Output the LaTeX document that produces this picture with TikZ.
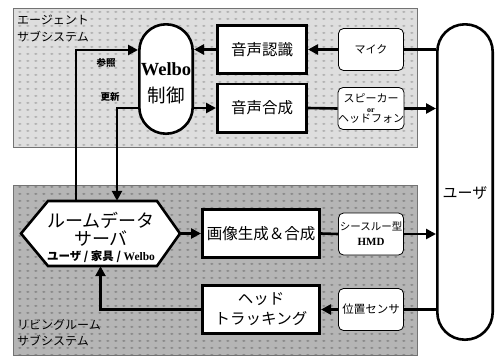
\documentclass[tikz,border=0pt]{standalone}
\usepackage{fontspec}
\setmainfont{Liberation Serif}
\newfontfamily\jp{Noto Sans CJK JP}
\usetikzlibrary{arrows.meta,patterns.meta}
\newcommand\tightls{\lineskiplimit=-20pt\relax}
\tikzdeclarepattern{
  name=paneldots, type=uncolored,
  bounding box={(0pt,0pt) and (8.3pt,7pt)},
  tile size={(8.3pt,7pt)},
  code={\fill (4.15pt,3.5pt) ellipse [x radius=2pt, y radius=1.2pt];}
}
\begin{document}
\begin{tikzpicture}[x=1pt,y=-1pt,
  panel/.style={draw=black!55, line width=0.8pt},
  bigbox/.style={draw, line width=2.6pt, fill=white, minimum width=89.4pt, minimum height=48.4pt, inner sep=0pt, align=center, font=\jp\fontsize{15.5}{20}\selectfont},
  dev/.style={draw, line width=0.8pt, fill=white, rounded corners=5pt, minimum width=65pt, minimum height=42pt, inner sep=0pt, align=center},
  conn/.style={line width=2.6pt},
  arr/.style={conn, -{Triangle[length=10pt,width=10pt]}},
  panellabel/.style={anchor=north west, align=left, inner sep=0pt, font=\jp\fontsize{12}{16.5}\selectfont},
]
\useasboundingbox (0,0) rectangle (497,357);
\fill[white] (0,0) rectangle (497,357);
% panels
\fill[black!13] (13,8) rectangle (417,147);
\fill[pattern=paneldots, pattern color=black!30] (13,8) rectangle (417,147);
\draw[panel] (13,8) rectangle (417,147);
\fill[black!29] (13,185) rectangle (417,355);
\fill[pattern=paneldots, pattern color=black!46] (13,185) rectangle (417,355);
\draw[panel] (13,185) rectangle (417,355);
\node[panellabel] (lab1) at (17,15) {エージェント\\サブシステム};
\node[panellabel] (lab2) at (17,319) {リビングルーム\\サブシステム};
% main nodes
\node[draw, line width=2.6pt, fill=white, rounded corners=26.5pt, minimum width=53.4pt, minimum height=109.4pt, inner sep=0pt] (welbo) at (166,79) {};
\node[align=center, inner sep=0pt, font=\fontsize{18.5}{27}\selectfont\tightls] (welbotext) at (166,83) {{\bfseries Welbo}\\{\jp 制御}};
\node[draw, line width=2.6pt, fill=white, rounded corners=27.5pt, minimum width=55.4pt, minimum height=315.4pt, inner sep=0pt] (user) at (465,182) {};
\node[inner sep=0pt, font=\jp\fontsize{15}{18}\selectfont] (usertext) at (465,193) {ユーザ};
\node[bigbox] (rec) at (262,49.5) {音声認識};
\node[bigbox] (syn) at (262,108) {音声合成};
\node[bigbox, minimum width=117.4pt] (img) at (261,233.5) {画像生成＆合成};
\node[bigbox, minimum width=117.4pt] (trk) at (261,309.5) {ヘッド\\トラッキング};
\node[dev, font=\jp\fontsize{11}{13}\selectfont] (mic) at (371,49.5) {マイク};
\node[dev, font=\jp\fontsize{11}{10}\selectfont] (spk) at (371,108.5) {\tightls スピーカー\\{\rmfamily\bfseries\fontsize{8}{10}\selectfont\tightls or}\\ヘッドフォン};
\node[dev, font=\jp\fontsize{10.5}{15}\selectfont] (hmd) at (371,234) {シースルー型\\{\rmfamily\bfseries\fontsize{11}{15}\selectfont HMD}};
\node[dev, font=\jp\fontsize{11.5}{13}\selectfont] (pos) at (371,309.5) {位置センサ};
% hexagon
\coordinate (hexL) at (21,233.5);
\coordinate (hexR) at (180,233.5);
\filldraw[fill=white, line width=2.6pt, line join=miter] (hexL) -- (48,201) -- (157,201) -- (hexR) -- (157,266) -- (48,266) -- cycle;
\node[inner sep=0pt, minimum width=109pt, minimum height=65pt] (hex) at (100.5,233.5) {};
\node[inner sep=0pt, align=center, font=\jp\fontsize{18}{18}\selectfont\tightls] (hextext) at (101,237) {ルームデータ\\サーバ\\[-3pt]{\bfseries\fontsize{11.5}{17}\selectfont ユーザ / 家具 / {\rmfamily Welbo}}};
% labels
\node[inner sep=0pt, font=\jp\bfseries\fontsize{9.5}{10}\selectfont] (ref) at (106,63) {参照};
\node[inner sep=0pt, font=\jp\bfseries\fontsize{9.5}{10}\selectfont] (upd) at (110,97) {更新};
% connectors
\draw[arr] (mic.west) -- (rec.east);
\draw[arr] (rec.west) -- (rec.west -| welbo.east);
\draw[arr] (syn.west -| welbo.east) -- (syn.west);
\draw[conn] (syn.east) -- (spk.west);
\draw[arr] (spk.east) -- (spk.east -| user.west);
\draw[conn] (mic.east) -- (mic.east -| user.west);
\draw[arr] (hexR) -- (img.west);
\draw[conn] (img.east) -- (hmd.west);
\draw[arr] (hmd.east) -- (hmd.east -| user.west);
\draw[conn] (user.west |- pos.east) -- (pos.east);
\draw[arr] (pos.west) -- (trk.east);
\draw[arr] (trk.west) -| (hex.south);
\draw[arr] ([xshift=-24.5pt]hex.north) |- ([yshift=29pt]welbo.west);
\draw[arr] ([yshift=-29pt]welbo.west) -| ([xshift=16.5pt]hex.north);
\end{tikzpicture}
\end{document}
